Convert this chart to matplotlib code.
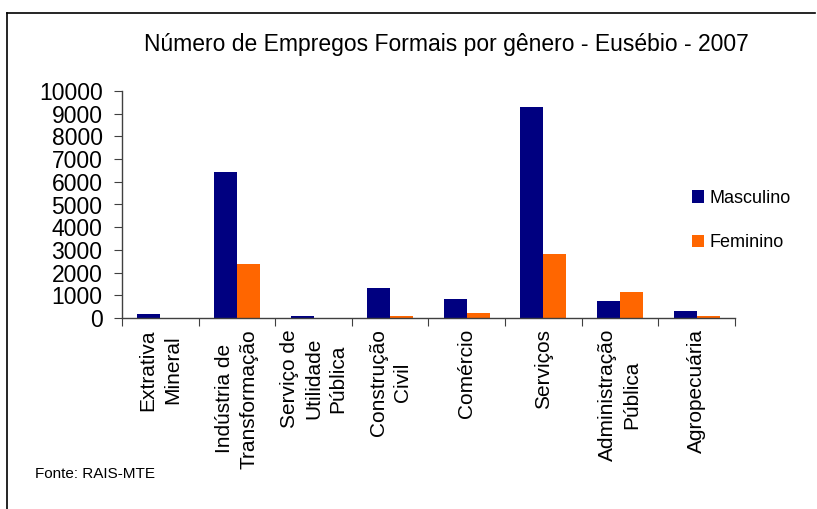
import matplotlib
matplotlib.use("Agg")
import matplotlib.pyplot as plt
from matplotlib.lines import Line2D
import numpy as np

plt.rcParams["font.family"] = ["Liberation Sans", "DejaVu Sans"]

categories = [
    "Extrativa\nMineral",
    "Indústria de\nTransformação",
    "Serviço de\nUtilidade\nPública",
    "Construção\nCivil",
    "Comércio",
    "Serviços",
    "Administração\nPública",
    "Agropecuária",
]
masculino = [175, 6450, 90, 1320, 840, 9300, 750, 310]
feminino = [0, 2380, 0, 90, 220, 2820, 1150, 90]
yticks = list(range(0, 10001, 1000))

W, H = 817, 509
fig = plt.figure(figsize=(W / 100, H / 100), dpi=100)
ax = fig.add_axes([122 / W, 1 - 318 / H, (735 - 122) / W, (318 - 91) / H])

x = np.arange(len(categories)) + 0.5
bw = 0.3
ax.bar(x - bw / 2, masculino, bw, color="#000080", label="Masculino")
ax.bar(x + bw / 2, feminino, bw, color="#FF6600", label="Feminino")

ax.set_xlim(0, len(categories))
ax.set_ylim(0, 10000)
ax.set_yticks(yticks)
ax.set_yticklabels([str(v) for v in yticks], fontsize=16.5)

# boundary ticks on x, labels at category centres
ax.set_xticks(np.arange(len(categories) + 1))
ax.set_xticklabels([])
ax.set_xticks(x, minor=True)
ax.set_xticklabels(categories, minor=True, rotation=90, fontsize=15,
                   ha="center", va="top", linespacing=1.35,
                   multialignment="center")
ax.tick_params(axis="x", which="minor", length=0, pad=8)
ax.tick_params(axis="x", which="major", length=6, direction="out", color="#404040")
ax.tick_params(axis="y", length=6, direction="out", color="#404040", pad=8)

for s in ["top", "right"]:
    ax.spines[s].set_visible(False)
for s in ["left", "bottom"]:
    ax.spines[s].set_color("#404040")
    ax.spines[s].set_linewidth(1)

ax.legend(loc="center left", bbox_to_anchor=(0.918, 0.43), frameon=False,
          fontsize=13, handlelength=0.65, handleheight=0.65, handletextpad=0.3,
          labelspacing=1.5, borderaxespad=0)

fig.text(446 / W, 1 - 45 / H, "Número de Empregos Formais por gênero - Eusébio - 2007",
         ha="center", va="center", fontsize=16.5)
fig.text(35 / W, 1 - 474 / H, "Fonte: RAIS-MTE", ha="left", va="center",
         fontsize=11, family=["Liberation Sans Narrow", "Liberation Sans"])

# outer frame (top and left edges visible)
fig.add_artist(Line2D([7 / W, 815 / W], [1 - 13 / H, 1 - 13 / H],
                      transform=fig.transFigure, color="black", lw=1.2))
fig.add_artist(Line2D([7 / W, 7 / W], [1 - 13 / H, 0],
                      transform=fig.transFigure, color="black", lw=1.2))

fig.savefig("out.png", dpi=100)
